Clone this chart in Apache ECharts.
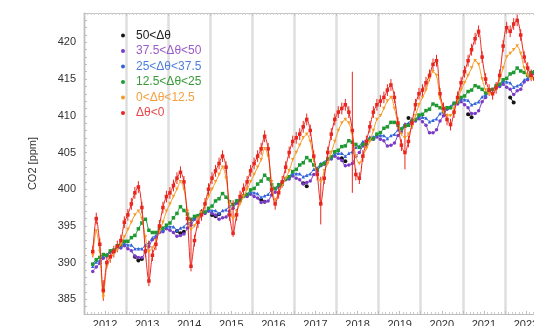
<!DOCTYPE html>
<html>
<head>
<meta charset="utf-8">
<script src="https://cdn.jsdelivr.net/npm/echarts@6/dist/echarts.min.js"></script>
<style>
  html, body { margin: 0; padding: 0; background: #fff; }
  #chart { width: 534px; height: 326px; }
</style>
</head>
<body>
<div id="chart"></div>
<script>
// monthly means, first month 2012-03
const firstYear = 2012;
const firstMonth = 3;

const legendNames = ["50<Δθ", "37.5<Δθ<50", "25<Δθ<37.5", "12.5<Δθ<25", "0<Δθ<12.5", "Δθ<0"];
const yLabels = [385, 390, 395, 400, 405, 410, 415, 420];

const black = [
  null, null, null, null, null, null, null, null, null, null,
  null, null, 390.8, 390.3, 390.5, null, null, null, null, null, null, null,
  null, null, 394.3, 394.0, 394.2, null, null, null, null, null, null, null,
  396.5, 396.3, 396.6, null, null, null, null, null, null, null, null, null,
  null, null, 398.6, 398.3, null, null, null, null, null, null, null, null,
  null, null, 400.8, 400.4, null, null, null, null, null, null, null, null,
  null, 404.2, 403.8, null, null, null, null, null, null, null, null, null,
  null, null, null, null, null, null, null, null, 409.7, null, null, null,
  null, null, null, null, null, null, null, null, null, null, null, null,
  null, 410.2, 409.8, null, null, null, null, null, null, null, null, null,
  null, 412.5, 411.8, null, null, null, null, null, null
];
const purple = [
  388.8, 389.4, 389.9, 390.6, 390.9, 391.4, 391.5, 392.0, 392.0, 392.3,
  391.9, 391.6, 390.9, 390.7, 390.7, 391.6, 392.2, 393.1, 393.4, 394.1, 394.2, 394.6,
  394.4, 394.1, 393.6, 393.7, 393.9, 394.7, 395.1, 395.9, 396.2, 396.7, 396.7, 397.0,
  396.7, 396.5, 395.9, 396.1, 396.2, 397.0, 397.4, 398.1, 398.4, 399.0, 399.0, 399.3,
  399.0, 398.8, 398.2, 398.3, 398.4, 399.2, 399.6, 400.4, 400.7, 401.3, 401.4, 401.8,
  401.5, 401.3, 400.7, 400.9, 401.1, 402.0, 402.4, 403.2, 403.4, 404.0, 404.1, 404.5,
  404.2, 403.9, 403.2, 403.3, 403.5, 404.5, 405.0, 405.9, 406.2, 406.8, 406.8, 407.1,
  406.8, 406.6, 405.9, 406.0, 406.3, 407.3, 407.8, 408.6, 408.8, 409.3, 409.3, 409.6,
  409.2, 408.7, 407.7, 407.7, 408.1, 409.3, 410.0, 410.9, 411.1, 411.6, 411.6, 411.9,
  411.5, 411.1, 410.3, 410.3, 410.7, 411.9, 412.5, 413.3, 413.5, 414.0, 414.0, 414.3,
  413.9, 413.6, 412.9, 413.4, 413.6, 414.6, 414.9, 415.6, 415.7
];
const blue = [
  389.5, 390.1, 390.3, 390.9, 391.1, 391.6, 391.7, 392.1, 392.2, 392.6,
  392.4, 392.4, 391.9, 391.9, 391.9, 392.4, 392.7, 393.4, 393.7, 394.3, 394.4, 394.9,
  394.9, 394.9, 394.4, 394.7, 394.9, 395.4, 395.5, 396.1, 396.4, 396.9, 396.9, 397.2,
  397.1, 397.1, 396.7, 397.1, 397.2, 397.7, 397.9, 398.5, 398.7, 399.2, 399.2, 399.6,
  399.5, 399.4, 398.9, 399.1, 399.3, 399.9, 400.1, 400.7, 400.9, 401.5, 401.6, 402.1,
  402.1, 402.1, 401.7, 401.9, 402.1, 402.7, 402.9, 403.5, 403.7, 404.2, 404.3, 404.8,
  404.9, 404.9, 404.5, 404.9, 405.1, 405.7, 405.9, 406.5, 406.6, 407.1, 407.1, 407.4,
  407.3, 407.3, 406.9, 407.3, 407.5, 408.1, 408.3, 408.9, 409.0, 409.5, 409.5, 409.9,
  409.8, 409.7, 409.2, 409.4, 409.6, 410.3, 410.5, 411.1, 411.3, 411.8, 411.9, 412.3,
  412.2, 412.1, 411.5, 411.7, 411.9, 412.6, 412.8, 413.4, 413.6, 414.1, 414.2, 414.7,
  414.6, 414.5, 413.9, 414.1, 414.3, 414.9, 415.1, 415.7, 415.9
];
const green = [
  389.8, 390.4, 390.7, 391.1, 391.0, 391.6, 391.7, 392.3, 392.4, 392.9,
  392.9, 393.4, 393.7, 394.6, 395.4, 395.9, 394.4, 394.1, 394.1, 394.6, 394.7, 395.1,
  395.4, 396.1, 396.7, 397.6, 397.1, 396.6, 395.9, 396.3, 396.4, 396.9, 396.9, 397.4,
  397.7, 398.4, 398.7, 399.4, 398.9, 398.3, 397.9, 398.4, 398.5, 399.1, 399.3, 399.9,
  400.1, 400.7, 401.1, 401.9, 401.4, 400.6, 400.1, 400.6, 400.7, 401.4, 401.7, 402.4,
  402.7, 403.3, 403.6, 404.3, 403.9, 403.3, 402.7, 403.3, 403.5, 404.1, 404.4, 405.1,
  405.3, 405.8, 405.9, 406.6, 406.4, 406.1, 405.7, 406.1, 406.2, 406.8, 406.9, 407.5,
  407.7, 408.3, 408.5, 409.1, 409.1, 408.7, 408.2, 408.6, 408.7, 409.3, 409.5, 410.1,
  410.2, 410.7, 410.9, 411.6, 411.4, 411.1, 410.7, 411.1, 411.1, 411.7, 411.9, 412.5,
  412.7, 413.3, 413.5, 414.1, 413.9, 413.6, 413.1, 413.5, 413.6, 414.1, 414.3, 414.9,
  415.1, 415.7, 415.9, 416.5, 416.1, 415.9, 415.5, 415.9, 416.0
];
const orange = [
  391.0, 394.3, 391.5, 385.3, 389.5, 390.5, 391.2, 391.8, 392.5, 393.5,
  394.5, 395.5, 396.5, 397.0, 396.0, 393.5, 391.5, 392.0, 393.0, 394.2, 395.5, 397.0,
  398.0, 399.0, 400.0, 401.0, 400.0, 397.0, 394.5, 395.0, 396.0, 396.8, 397.8, 399.0,
  400.0, 401.0, 402.0, 403.0, 401.5, 398.0, 396.0, 397.0, 398.0, 399.0, 400.0, 401.0,
  402.0, 403.0, 404.0, 405.5, 404.5, 401.0, 398.5, 399.5, 400.5, 401.5, 402.5, 404.0,
  405.0, 406.0, 407.0, 407.5, 406.5, 404.0, 402.0, 401.0, 402.5, 403.5, 405.0, 406.5,
  408.0, 409.0, 409.5, 409.0, 407.5, 404.5, 403.5, 404.5, 405.5, 406.5, 408.0, 409.5,
  410.0, 411.0, 412.0, 412.5, 411.0, 409.0, 407.5, 407.0, 407.5, 408.5, 410.0, 411.5,
  412.5, 413.5, 415.0, 416.0, 415.5, 412.5, 410.5, 410.0, 410.0, 410.8, 412.0, 413.5,
  414.5, 415.5, 416.5, 417.5, 417.0, 415.0, 413.5, 413.0, 413.0, 413.8, 415.0, 416.5,
  418.0, 418.5, 419.0, 419.5, 418.5, 416.5, 415.5, 415.0, 415.2
];
const red = [
  391.5, 396.0, 392.5, 386.2, 390.0, 390.8, 391.5, 392.2, 393.0, 395.5,
  396.5, 398.0, 399.5, 400.3, 397.5, 391.5, 387.5, 391.0, 392.5, 395.0, 397.5, 399.0,
  399.5, 400.5, 401.5, 402.3, 401.0, 396.0, 389.5, 393.0, 395.5, 396.5, 398.0, 400.0,
  401.5, 402.5, 403.5, 404.5, 403.0, 396.5, 394.0, 396.5, 399.0, 400.0, 401.0, 402.5,
  403.5, 404.5, 405.5, 407.2, 405.5, 400.0, 398.0, 399.5, 401.0, 403.0, 405.0, 406.5,
  407.0, 407.5, 408.5, 409.5, 408.0, 404.5, 402.0, 398.0, 401.5, 405.0, 407.5, 409.5,
  410.5, 411.0, 411.5, 410.5, 408.0, 402.0, 401.5, 404.5, 406.5, 408.5, 410.5, 411.5,
  412.0, 412.5, 413.5, 414.2, 412.5, 409.0, 406.0, 405.0, 406.5, 409.0, 411.5, 413.0,
  413.5, 414.5, 415.5, 417.0, 417.5, 413.0, 411.0, 409.5, 408.8, 410.5, 412.5, 414.5,
  416.0, 417.5, 419.0, 420.5, 421.5, 418.0, 415.0, 413.5, 413.0, 413.8, 415.5, 419.5,
  422.0, 421.5, 422.5, 423.0, 421.0, 418.0, 416.5, 415.5, 415.0
];
// red uncertainty, usual half-width and the long bars
const redErr = 0.8;
const redLongBars = [
  ["2012-06", 384.8, 387.6],
  ["2013-07", 386.8, 393.0],
  ["2014-07", 388.8, 396.0],
  ["2015-07", 393.5, 398.5],
  ["2017-08", 395.2, 401.7],
  ["2018-05", 399.5, 416.0],
  ["2019-08", 402.7, 409.0]
];

const colors = ["#151515", "#7a3cc6", "#3263d8", "#1f9a33", "#f79a25", "#e8261e"];
const textColors = ["#222222", "#9a5cc8", "#4f7fdc", "#3a9a3a", "#f4a040", "#e8464a"];
const symbols = ["circle", "circle", "triangle", "rect", "triangle", "rect"];

const months = [];
for (let i = 0; i < red.length; i++) {
  const k = firstMonth - 1 + i;
  months.push(firstYear + Math.floor(k / 12) + "-" + String((k % 12) + 1).padStart(2, "0"));
}
const toYear = (m) => {
  const [y, mo] = m.split("-").map(Number);
  return y + (mo - 0.5) / 12;
};
const pairs = (vals) => months.map((m, i) => [toYear(m), vals[i]]);

const allSeries = [black, purple, blue, green, orange, red];

const redBars = months
  .map((m, i) => {
    if (red[i] == null) return null;
    const long = redLongBars.find((b) => b[0] === m);
    return long ? [toYear(m), long[1], long[2]] : [toYear(m), red[i] - redErr, red[i] + redErr];
  })
  .filter(Boolean);

const chart = echarts.init(document.getElementById("chart"));

const lineSeries = allSeries.map((vals, i) => ({
  name: legendNames[i],
  type: "line",
  data: pairs(vals),
  smooth: 0.3,
  connectNulls: false,
  symbol: symbols[i],
  symbolSize: i === 0 ? 4 : 3.5,
  symbolRotate: i === 4 ? 180 : 0,
  lineStyle: { color: colors[i], width: 1 },
  itemStyle: { color: colors[i] },
  z: 2 + i,
}));

chart.setOption({
  animation: false,
  grid: { left: 84, right: -13, top: 13, bottom: 12, containLabel: false, outerBoundsMode: "none" },
  legend: {
    orient: "vertical",
    left: 116,
    top: 24,
    icon: "circle",
    itemWidth: 4,
    itemHeight: 4,
    itemGap: 2.5,
    selectedMode: false,
    textStyle: { fontFamily: "Liberation Sans", fontSize: 12, lineHeight: 13, padding: [0, 0, 0, 6] },
    data: legendNames.map((n, i) => ({ name: n, textStyle: { color: textColors[i] } })),
  },
  xAxis: [
    {
      type: "value",
      position: "bottom",
      min: 2012,
      max: 2023,
      interval: 0.5,
      axisLine: { show: true, lineStyle: { color: "#bdbdbd" } },
      axisTick: { show: true, inside: true, length: 3, lineStyle: { color: "#bdbdbd" } },
      minorTick: { show: true, splitNumber: 6, length: 2, lineStyle: { color: "#cccccc" } },
      splitLine: { show: false },
      axisLabel: {
        color: "#333",
        fontFamily: "Liberation Sans",
        fontSize: 11,
        margin: 5,
        formatter: (v) => (Math.abs((v % 1) - 0.5) < 0.01 ? String(Math.floor(v)) : ""),
      },
    },
    {
      type: "value",
      position: "top",
      min: 2012,
      max: 2023,
      interval: 1,
      axisLine: { show: true, lineStyle: { color: "#c4c4c4" } },
      axisTick: { show: true, inside: true, length: 3, lineStyle: { color: "#c4c4c4" } },
      minorTick: { show: true, splitNumber: 12, length: 2, lineStyle: { color: "#d0d0d0" } },
      axisLabel: { show: false },
      splitLine: { show: true, lineStyle: { color: "#dedede", width: 2.5 } },
    },
  ],
  yAxis: {
    type: "value",
    min: 383,
    max: 424,
    name: "CO2 [ppm]",
    nameLocation: "middle",
    nameGap: 46,
    nameRotate: 90,
    nameTextStyle: { color: "#333", fontFamily: "Liberation Sans", fontSize: 11 },
    axisLine: { show: true, lineStyle: { color: "#bdbdbd" } },
    axisTick: {
      show: true,
      inside: true,
      length: 3,
      customValues: Array.from({ length: 41 }, (_, k) => 384 + k),
      lineStyle: { color: "#bdbdbd" },
    },
    splitLine: { show: false },
    axisLabel: {
      color: "#333",
      fontFamily: "Liberation Sans",
      fontSize: 11,
      margin: 8,
      customValues: yLabels,
    },
  },
  series: [
    {
      type: "custom",
      silent: true,
      data: redBars,
      encode: { x: 0, y: [1, 2] },
      renderItem: (params, api) => {
        const lo = api.coord([api.value(0), api.value(1)]);
        const hi = api.coord([api.value(0), api.value(2)]);
        return {
          type: "line",
          shape: { x1: lo[0], y1: lo[1], x2: hi[0], y2: hi[1] },
          style: { stroke: colors[5], lineWidth: 1 },
        };
      },
      z: 6,
    },
    ...lineSeries,
  ],
});
</script>
</body>
</html>
